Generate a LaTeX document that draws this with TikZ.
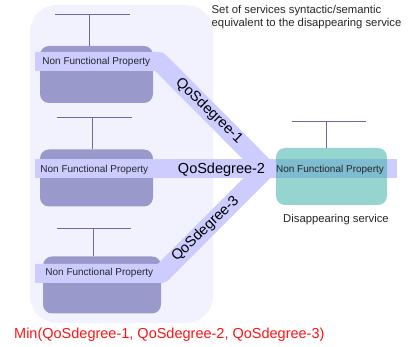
\documentclass[tikz,border=0pt]{standalone}
\usepackage{fontspec}
\setmainfont{Liberation Sans}
\definecolor{bglav}{RGB}{242,242,255}
\definecolor{boxpurple}{RGB}{153,153,204}
\definecolor{bandcol}{RGB}{204,204,255}
\definecolor{tealcol}{RGB}{64,176,170}
\definecolor{tcol}{RGB}{110,105,165}
\definecolor{redtxt}{RGB}{255,20,20}
\begin{document}
\begin{tikzpicture}[x=1pt,y=-1pt,
  bgbox/.style={fill=bglav,draw=none,rounded corners=27pt,minimum width=183pt,minimum height=318pt,inner sep=0pt},
  darkbox/.style={fill=boxpurple,draw=none,rounded corners=9pt,minimum width=113pt,minimum height=57pt,inner sep=0pt},
  tealbox/.style={fill=tealcol,fill opacity=0.55,draw=none,rounded corners=9pt,minimum width=111pt,minimum height=57pt,inner sep=0pt},
  band/.style={draw=bandcol,line width=19pt,line join=round},
  tline/.style={draw=tcol,line width=0.9pt},
  nfp/.style={font=\fontsize{10}{12}\selectfont,inner sep=0pt,text=black!85},
  qos/.style={font=\fontsize{14.5}{17}\selectfont,inner sep=0pt},
  lbl/.style={font=\fontsize{11.3}{13}\selectfont,inner sep=0pt,text=black!85}]
\useasboundingbox (0,0) rectangle (408,347);
\node[bgbox] (bg) at (121.5,164) {};
% T lines
\coordinate (t1l) at (55,14); \coordinate (t1r) at (130,14); \coordinate (t1m) at (89,14);
\coordinate (t2l) at (57,117); \coordinate (t2r) at (132,117); \coordinate (t2m) at (92,117);
\coordinate (t3l) at (57,228); \coordinate (t3r) at (131,228); \coordinate (t3m) at (93,228);
\coordinate (t4l) at (292,121); \coordinate (t4r) at (366,121); \coordinate (t4m) at (326,121);
% boxes
\node[darkbox] (s1) at (96.5,74.5) {};
\node[darkbox] (s2) at (96.5,178) {};
\node[darkbox,minimum width=118pt] (s3) at (102,285) {};
\draw[tline] (t1l) -- (t1r); \draw[tline] (t1m) -- (t1m |- s1.north);
\draw[tline] (t2l) -- (t2r); \draw[tline] (t2m) -- (t2m |- s2.north);
\draw[tline] (t3l) -- (t3r); \draw[tline] (t3m) -- (t3m |- s3.north);
% bands
\coordinate (b1s) at (35,61.5); \coordinate (b1k) at (159,61.5);
\coordinate (b2s) at (35,169); \coordinate (b2e) at (397,169);
\coordinate (b3s) at (35,273.5); \coordinate (b3k) at (161.5,273.5);
\coordinate (jn) at (266,169);
\draw[band] (b1s) -- (b1k) -- (jn);
\draw[band] (b3s) -- (b3k) -- (jn);
\draw[band] (b2s) -- (b2e);
% disappearing service
\node[tealbox] (ds) at (331.5,176.5) {};
\draw[tline] (t4l) -- (t4r); \draw[tline] (t4m) -- (t4m |- ds.north);
% texts
\node[nfp,anchor=base west] (n1) at (42.2,64.3) {Non Functional Property};
\node[nfp,anchor=base west] (n2) at (40.2,172.5) {Non Functional Property};
\node[nfp,anchor=base west] (n3) at (45.2,275.7) {Non Functional Property};
\node[nfp,anchor=base] (n4) at (330,172.7) {Non Functional Property};
\node[qos,rotate=-44] (q1) at (209,111) {QoSdegree-1};
\node[qos,anchor=base] (q2) at (221.5,174) {QoSdegree-2};
\node[qos,rotate=44] (q3) at (205.5,229) {QoSdegree-3};
\node[lbl,anchor=base] (dl) at (336,223) {Disappearing service};
\node[lbl,anchor=north west,align=left] (st) at (211.5,4.8) {Set of services syntactic/semantic\\equivalent to the disappearing service};
\node[qos,anchor=base west,text=redtxt] (mn) at (14,339) {Min(QoSdegree-1, QoSdegree-2, QoSdegree-3)};
\end{tikzpicture}
\end{document}
